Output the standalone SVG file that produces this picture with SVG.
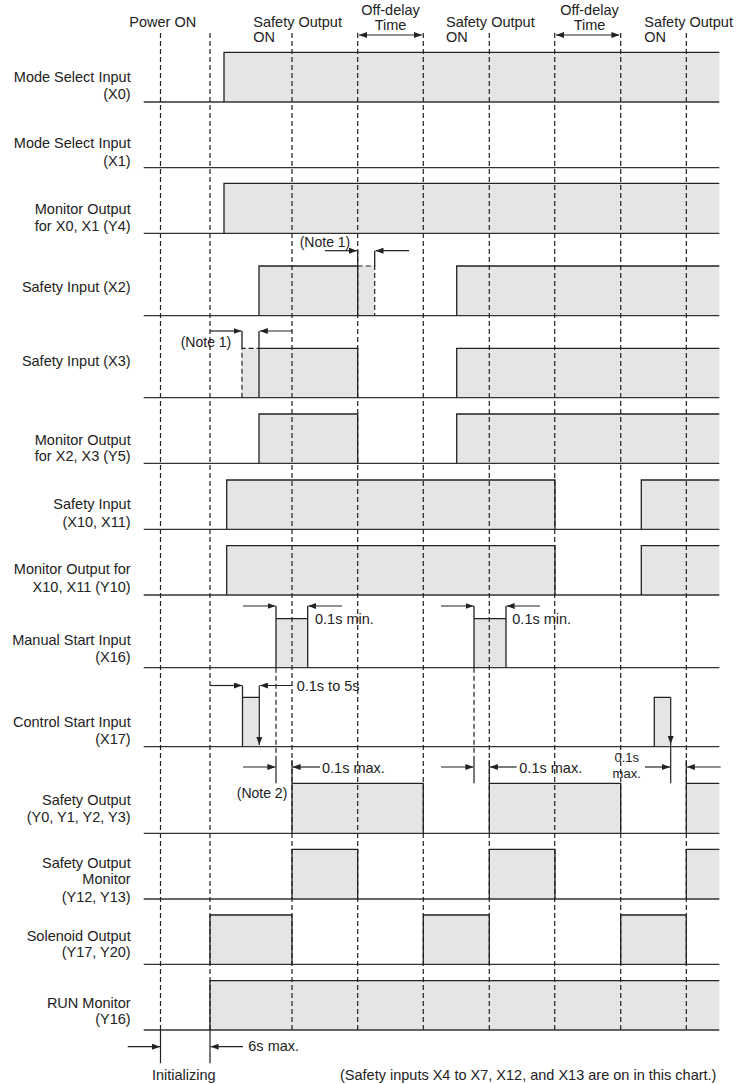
<svg xmlns="http://www.w3.org/2000/svg" width="737" height="1084" viewBox="0 0 737 1084">
<defs>
<style>
text{font-family:"Liberation Sans",Arial,sans-serif;font-size:14.5px;fill:#222}
.lbl{text-anchor:end}
.sm{font-size:14px}
.xs{font-size:13px}
.hi{fill:#e5e5e5;stroke:none}
.sig{fill:none;stroke:#222;stroke-width:1.3}
.base{fill:none;stroke:#333;stroke-width:1.3}
.dsh{fill:none;stroke:#222;stroke-width:1.2;stroke-dasharray:5 3}
.arr{fill:none;stroke:#222;stroke-width:1.2;marker-end:url(#ah)}
.dbl{fill:none;stroke:#222;stroke-width:1.2;marker-end:url(#ah);marker-start:url(#ah)}
.ln{fill:none;stroke:#222;stroke-width:1.2}
</style>
<marker id="ah" viewBox="0 0 8 6" refX="8" refY="3" markerWidth="8" markerHeight="6" orient="auto-start-reverse" markerUnits="userSpaceOnUse"><path d="M0,0L8,3L0,6z" fill="#222"/></marker>
</defs>
<rect width="737" height="1084" fill="#fff"/>

<g id="header">
<text x="129.3" y="26.7">Power ON</text>
<text x="253.3" y="26.7">Safety Output</text><text x="253.3" y="41.7">ON</text>
<text x="390.5" y="15" text-anchor="middle">Off-delay</text><text x="390.5" y="30" text-anchor="middle">Time</text>
<text x="446" y="26.7">Safety Output</text><text x="446" y="41.7">ON</text>
<text x="589.5" y="15" text-anchor="middle">Off-delay</text><text x="589.5" y="30" text-anchor="middle">Time</text>
<text x="644.3" y="26.7">Safety Output</text><text x="644.3" y="41.7">ON</text>
</g>

<g id="row-x0">
<text class="lbl" x="130.7" y="82.3">Mode Select Input</text><text class="lbl" x="130.7" y="99.3">(X0)</text>
<rect class="hi" x="224" y="52.3" width="495.3" height="49.7"/>
<path class="base" d="M143.7,102H719.3"/><path class="sig" d="M224,102V52.3H719.3"/>
</g>
<g id="row-x1">
<text class="lbl" x="130.7" y="147.7">Mode Select Input</text><text class="lbl" x="130.7" y="165.7">(X1)</text>
<path class="base" d="M143.7,167.7H719.3"/>
</g>
<g id="row-y4">
<text class="lbl" x="130.7" y="214.3">Monitor Output</text><text class="lbl" x="130.7" y="231">for X0, X1 (Y4)</text>
<rect class="hi" x="224" y="183.3" width="495.3" height="50"/>
<path class="base" d="M143.7,233.3H719.3"/><path class="sig" d="M224,233.3V183.3H719.3"/>
</g>
<g id="row-x2">
<text class="lbl" x="130.7" y="291.7">Safety Input (X2)</text>
<rect class="hi" x="259" y="266" width="115.7" height="49.7"/>
<rect class="hi" x="456.7" y="266" width="262.6" height="49.7"/>
<path class="base" d="M143.7,315.7H719.3"/>
<path class="sig" d="M259,315.7V266H357.7V315.7M357.7,250.7V266M374.7,250.7V266M456.7,315.7V266H719.3"/>
<path class="dsh" d="M357.7,266H374.7V315.7"/>
</g>
<g id="row-x3">
<text class="lbl" x="130.7" y="366.3">Safety Input (X3)</text>
<rect class="hi" x="242" y="348.3" width="115.7" height="49.4"/>
<rect class="hi" x="456.7" y="348.3" width="262.6" height="49.4"/>
<path class="base" d="M143.7,397.7H719.3"/>
<path class="sig" d="M259,397.7V348.3H357.7V397.7M242,331V348.3M259,331V348.3M456.7,397.7V348.3H719.3"/>
<path class="dsh" d="M242,397.7V348.3H259"/>
</g>
<g id="row-y5">
<text class="lbl" x="130.7" y="444.7">Monitor Output</text><text class="lbl" x="130.7" y="461.3">for X2, X3 (Y5)</text>
<rect class="hi" x="259" y="414" width="98.7" height="49.3"/>
<rect class="hi" x="456.7" y="414" width="262.6" height="49.3"/>
<path class="base" d="M143.7,463.3H719.3"/>
<path class="sig" d="M259,463.3V414H357.7V463.3M456.7,463.3V414H719.3"/>
</g>
<g id="row-x10">
<text class="lbl" x="130.7" y="509.3">Safety Input</text><text class="lbl" x="130.7" y="526.7">(X10, X11)</text>
<rect class="hi" x="226.7" y="480" width="328.3" height="49.3"/>
<rect class="hi" x="641.3" y="480" width="78" height="49.3"/>
<path class="base" d="M143.7,529.3H719.3"/>
<path class="sig" d="M226.7,529.3V480H555V529.3M641.3,529.3V480H719.3"/>
</g>
<g id="row-y10">
<text class="lbl" x="130.7" y="574.3">Monitor Output for</text><text class="lbl" x="130.7" y="592">X10, X11 (Y10)</text>
<rect class="hi" x="226.7" y="545.7" width="328.3" height="49.3"/>
<rect class="hi" x="641.3" y="545.7" width="78" height="49.3"/>
<path class="base" d="M143.7,595H719.3"/>
<path class="sig" d="M226.7,595V545.7H555V595M641.3,595V545.7H719.3"/>
</g>
<g id="row-x16">
<text class="lbl" x="130.7" y="645">Manual Start Input</text><text class="lbl" x="130.7" y="662.3">(X16)</text>
<rect class="hi" x="276" y="618.7" width="31.7" height="49"/>
<rect class="hi" x="474" y="618.7" width="32" height="49"/>
<path class="base" d="M143.7,667.7H719.3"/>
<path class="sig" d="M276,667.7V606M307.7,667.7V606M276,618.7H307.7M474,667.7V606M506,667.7V606M474,618.7H506"/>
</g>
<g id="row-x17">
<text class="lbl" x="130.7" y="726.7">Control Start Input</text><text class="lbl" x="130.7" y="744.3">(X17)</text>
<rect class="hi" x="242.5" y="697.3" width="16.8" height="49.4"/>
<rect class="hi" x="654.3" y="697.3" width="16.4" height="49.4"/>
<path class="base" d="M143.7,746.7H719.3"/>
<path class="sig" d="M242.5,746.7V685.5M242.5,697.3H259.3M654.3,746.7V697.3H670.7"/>
<path class="ln" d="M259.3,685.5V745" style="marker-end:url(#ah)"/>
<path class="ln" d="M670.7,697.3V744" style="marker-end:url(#ah)"/>
<path class="ln" d="M670.7,744V783.3"/>
</g>
<g id="row-y0">
<text class="lbl" x="130.7" y="805">Safety Output</text><text class="lbl" x="130.7" y="822.3">(Y0, Y1, Y2, Y3)</text>
<rect class="hi" x="292" y="783.3" width="131.3" height="50"/>
<rect class="hi" x="489.3" y="783.3" width="131.4" height="50"/>
<rect class="hi" x="686.3" y="783.3" width="33" height="50"/>
<path class="base" d="M143.7,833.3H719.3"/>
<path class="sig" d="M292,833.3V783.3H423.3V833.3M489.3,833.3V783.3H620.7V833.3M686.3,833.3V783.3H719.3"/>
</g>
<g id="row-y12">
<text class="lbl" x="130.7" y="867.7">Safety Output</text><text class="lbl" x="130.7" y="884.3">Monitor</text><text class="lbl" x="130.7" y="901.7">(Y12, Y13)</text>
<rect class="hi" x="292" y="849.3" width="65.7" height="49.7"/>
<rect class="hi" x="489.3" y="849.3" width="65.7" height="49.7"/>
<rect class="hi" x="686.3" y="849.3" width="33" height="49.7"/>
<path class="base" d="M143.7,899H719.3"/>
<path class="sig" d="M292,899V849.3H357.7V899M489.3,899V849.3H555V899M686.3,899V849.3H719.3"/>
</g>
<g id="row-y17">
<text class="lbl" x="130.7" y="940.7">Solenoid Output</text><text class="lbl" x="130.7" y="957.3">(Y17, Y20)</text>
<rect class="hi" x="210" y="915" width="82" height="49.3"/>
<rect class="hi" x="423.3" y="915" width="66" height="49.3"/>
<rect class="hi" x="620.7" y="915" width="65.6" height="49.3"/>
<path class="base" d="M143.7,964.3H719.3"/>
<path class="sig" d="M210,964.3V915H292V964.3M423.3,964.3V915H489.3V964.3M620.7,964.3V915H686.3V964.3"/>
</g>
<g id="row-y16">
<text class="lbl" x="130.7" y="1007.5">RUN Monitor</text><text class="lbl" x="130.7" y="1024">(Y16)</text>
<rect class="hi" x="210" y="980.7" width="509.3" height="49.3"/>
<path class="base" d="M143.7,1030H719.3"/>
<path class="sig" d="M210,1030V980.7H719.3"/>
</g>

<g id="connectors">
<path class="dsh" d="M160.5,33V1030M210,33V1030M292,33V1030M357.7,33V1030M423.3,33V1030M489.3,33V1030M554.7,33V1030M620.7,33V1030M686.3,33V1030"/>
<path class="ln" d="M160.5,1030V1063.3M210,1030V1063.3"/>
<path class="dbl" d="M359,35H422"/>
<path class="dbl" d="M556,35H619.4"/>
<path class="arr" d="M325,250.7H357"/>
<path class="arr" d="M409,250.7H375.5"/>
<path class="arr" d="M210,331H241.5"/>
<path class="arr" d="M292.5,331H259.8"/>
<path class="arr" d="M243,606H275.5"/>
<path class="arr" d="M342,606H308.3"/>
<path class="arr" d="M441,606H473.5"/>
<path class="arr" d="M540,606H506.6"/>
<path class="arr" d="M210,685.5H242"/>
<path class="arr" d="M292,685.5H259.9"/>
<path class="dsh" d="M276,667.7V757M474,667.7V757"/>
<path class="ln" d="M276,757V783.3M474,757V783.3M292,760V783.3M489.3,760V783.3M686.3,760V783.3"/>
<path class="arr" d="M243,767H275.4"/>
<path class="arr" d="M320,767H292.6"/>
<path class="arr" d="M441,767H473.4"/>
<path class="arr" d="M516.7,767H489.9"/>
<path class="arr" d="M645,767H670"/>
<path class="arr" d="M720.7,767H686.9"/>
<path class="arr" d="M127.7,1046.7H160"/>
<path class="arr" d="M243,1046.7H210.6"/>
</g>

<g id="annotations">
<text class="sm" x="325" y="247.3" text-anchor="middle">(Note 1)</text>
<text class="sm" x="206" y="346.5" text-anchor="middle">(Note 1)</text>
<text x="315" y="624.3">0.1s min.</text>
<text x="512.3" y="624.3">0.1s min.</text>
<text x="296.7" y="691">0.1s to 5s</text>
<text x="322" y="772.5">0.1s max.</text>
<text x="519.3" y="772.5">0.1s max.</text>
<text class="xs" x="626.7" y="762" text-anchor="middle">0.1s</text>
<text class="xs" x="626.7" y="777.5" text-anchor="middle">max.</text>
<text class="sm" x="287.3" y="798.3" text-anchor="end">(Note 2)</text>
<text x="248.3" y="1051">6s max.</text>
<text x="183.8" y="1080" text-anchor="middle">Initializing</text>
<text x="340" y="1080">(Safety inputs X4 to X7, X12, and X13 are on in this chart.)</text>
</g>
</svg>
